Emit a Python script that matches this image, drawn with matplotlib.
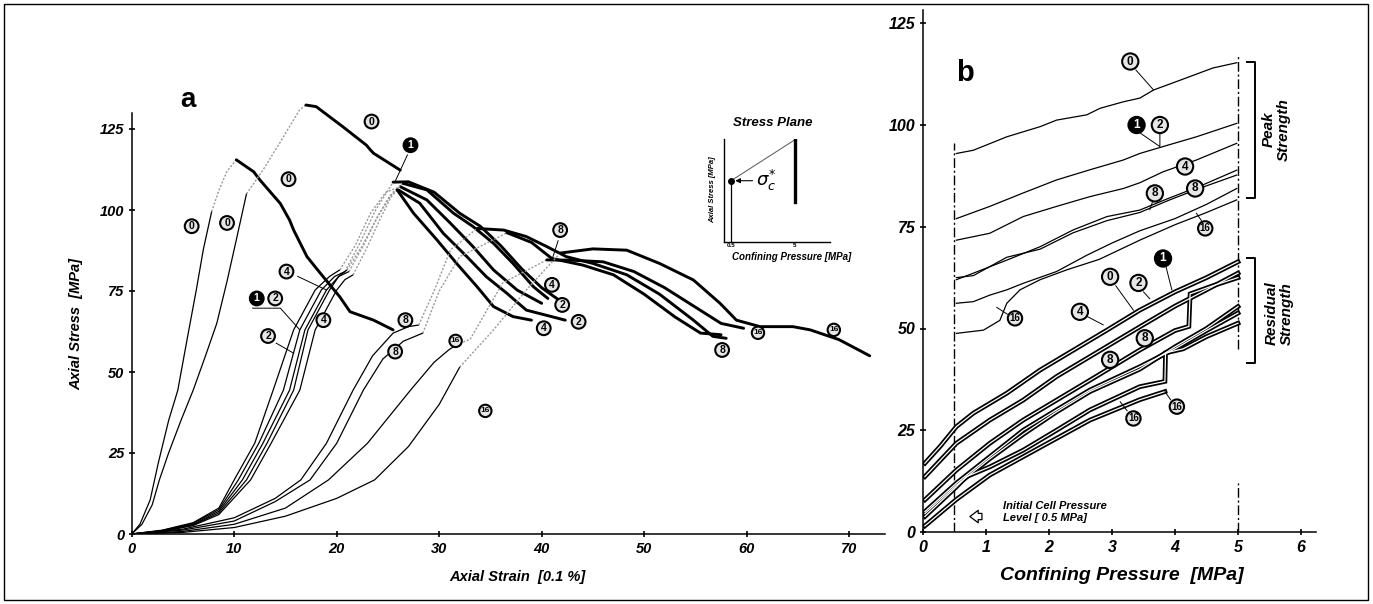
import matplotlib
matplotlib.use("Agg")
import matplotlib.pyplot as plt
from matplotlib.patches import Rectangle

# ---------------- DATA ----------------
# Panel a : axial strain [0.1 %] vs axial stress [MPa]
strain_ticks = [0, 10, 20, 30, 40, 50, 60, 70]
stress_ticks = [0, 25, 50, 75, 100, 125]

# confining pressure 0 MPa, left specimen
a0L_rise_x = [0, 0.8, 1.8, 2.6, 3.6, 4.5, 5.4, 6.3, 7.0, 7.8]
a0L_rise_y = [0, 3, 10.5, 22, 35, 44.4, 60, 75.3, 88, 99.5]
a0L_grey_x = [7.8, 8.5, 9.3, 10.2]
a0L_grey_y = [99.5, 106, 112, 115.5]
a0L_fall_x = [10.2, 11.9, 12.5, 14.5, 15.4, 15.8, 17.1, 18.4, 20.3, 21.3, 23.6, 25.5]
a0L_fall_y = [115.5, 111.8, 109.3, 102, 96.9, 93.8, 85.6, 80.5, 73.2, 68.6, 66, 63]

# confining pressure 0 MPa, right specimen
a0R_rise_x = [0, 1, 2, 2.7, 3.6, 4.8, 6, 7.2, 8.3, 9.3, 10.2, 11.2]
a0R_rise_y = [0, 3, 9, 16.7, 25, 35, 44.4, 55, 65, 78, 90.7, 105]
a0R_grey_x = [11.2, 12.8, 14.5, 16.4, 17]
a0R_grey_y = [105, 112.3, 121, 131, 132.4]
a0R_fall_x = [17, 18, 20.6, 22.9, 23.3, 23.6, 26.2]
a0R_fall_y = [132.4, 131.9, 125.7, 120, 118.5, 117.5, 112.3]

# 1 MPa
a1_rise_x = [0, 3, 6, 8.5, 10.4, 12.4, 14.8, 16.4, 18.5, 19.8, 20.8]
a1_rise_y = [0, 1.1, 3.3, 7.5, 16.7, 28, 44.4, 63, 75.3, 79.5, 81]
a1_grey_x = [20.8, 22.3, 23.8, 25.5]
a1_grey_y = [81, 90, 100, 108.6]
a1_fall_x = [25.5, 27, 29.5, 32, 34, 36, 38, 40, 42]
a1_fall_y = [108.6, 108.7, 105.5, 99, 95, 89, 82, 76, 71.5]

# 2 MPa (two specimens)
a2a_rise_x = [0, 3, 6, 8.5, 10, 12, 13.8, 15.8, 17.9, 19.3, 20.3]
a2a_rise_y = [0, 1.2, 3.5, 8, 16.7, 28, 44.4, 63, 75.3, 79.5, 81.5]
a2a_grey_x = [20.3, 21.8, 23.3, 24.8, 26.2]
a2a_grey_y = [81.5, 89, 99, 105.5, 107.2]
a2a_fall_x = [26.2, 28.8, 31.1, 33.3, 35.3, 37.6, 40]
a2a_fall_y = [107.2, 103.1, 95.9, 88.7, 81.5, 75.3, 71.2]

a2b_rise_x = [0, 3, 6, 8.5, 10.8, 12.8, 15.4, 16.9, 19.0, 20.2, 21.2]
a2b_rise_y = [0, 1.0, 3.0, 7, 16.7, 28, 44.4, 63, 75.3, 79.5, 81]
a2b_grey_x = [21.2, 22.6, 24.0, 25.2, 26.0]
a2b_grey_y = [81, 89, 98, 104.5, 106.2]
a2b_fall_x = [26.0, 28.1, 30.4, 32.7, 34.6, 36.6, 38.5, 42.3]
a2b_fall_y = [106.2, 102.1, 92.8, 85.6, 79.4, 74.3, 69.1, 66]

# 4 MPa (two specimens)
a4a_rise_x = [0, 3, 6, 8.5, 11.2, 13.2, 15.8, 17.2, 19.3, 20.2, 21.0]
a4a_rise_y = [0, 0.9, 2.8, 6.5, 16.7, 28, 44.4, 63, 75.3, 79.5, 81.5]
a4a_grey_x = [21.0, 22.5, 24.0, 25.5, 26.5]
a4a_grey_y = [81.5, 89, 98, 105.5, 108.2]
a4a_fall_x = [26.5, 28.8, 31.4, 33.3, 35.3, 37.2, 39.2, 40.6]
a4a_fall_y = [108.2, 106.2, 99, 94.9, 89.7, 83.5, 76.3, 72.7]

a4b_rise_x = [0, 3, 6, 8.5, 11.6, 13.6, 16.4, 17.9, 20.0, 20.8, 21.6]
a4b_rise_y = [0, 0.8, 2.6, 6, 16.7, 28, 44.4, 63, 75.3, 78.5, 80]
a4b_grey_x = [21.6, 22.9, 24.2, 25.3, 25.9]
a4b_grey_y = [80, 88, 97, 104, 106.2]
a4b_fall_x = [25.9, 27.5, 29.8, 31.7, 33.7, 35.3, 37.2, 39]
a4b_fall_y = [106.2, 99, 90.7, 83.5, 76.3, 70.2, 67.1, 66]

# 8 MPa (two specimens)
a8a_rise_x = [0, 5, 10, 14, 16.5, 19, 21.6, 23.5, 25.5, 27, 28]
a8a_rise_y = [0, 1.5, 5, 11, 16.7, 28, 44.4, 55, 62, 64, 64.5]
a8a_grey_x = [28, 29.5, 31.1, 33.7]
a8a_grey_y = [64.5, 75, 87.7, 94.3]
a8a_fall_x = [33.7, 36.3, 38.5, 40.5, 42.4, 45, 48.3, 51.5, 54.8, 56.7, 58]
a8a_fall_y = [94.3, 93.8, 91.8, 88.7, 85.6, 83.5, 80, 74, 66, 61, 60.4]

a8b_rise_x = [0, 5, 10, 14, 17.4, 20, 22.6, 24.5, 26.5, 28.4]
a8b_rise_y = [0, 1.2, 4, 10, 16.7, 28, 44.4, 54, 59.5, 62]
a8b_grey_x = [28.4, 30, 32, 35.9, 36.6]
a8b_grey_y = [62, 75, 85.6, 91.8, 93]
a8b_fall_x = [36.6, 39, 41, 44, 47, 50, 53, 55.5, 57.5]
a8b_fall_y = [93, 90, 85, 83, 80, 74, 67, 62, 61.5]

# 16 MPa (two specimens)
a16a_rise_x = [0, 5, 10, 15, 19.2, 23, 27.2, 29.5, 31, 32]
a16a_rise_y = [0, 0.8, 3, 8, 16.7, 28, 44.4, 53, 57, 58.9]
a16a_grey_x = [32, 33, 36.2, 40.5]
a16a_grey_y = [58.9, 60, 77.5, 84.6]
a16a_fall_x = [40.5, 43, 46, 49, 52, 55, 57.5, 59.7]
a16a_fall_y = [84.6, 84.5, 84, 81, 76, 70, 65, 63.5]

a16b_rise_x = [0, 5, 10, 15, 20, 23.7, 27, 30, 32]
a16b_rise_y = [0, 0.5, 2, 5.5, 11, 16.7, 27, 40, 51.5]
a16b_grey_x = [32, 35.3, 38.5, 41.8]
a16b_grey_y = [51.5, 63, 75.3, 86.7]
a16b_fall_x = [41.8, 45, 48.3, 51.5, 54.8, 57.4, 59, 61.3, 64.5, 66.2, 69, 72]
a16b_fall_y = [86.7, 88, 87.6, 83.5, 78.4, 71.2, 66, 64, 64, 63, 60, 55]

# Panel b : confining pressure [MPa] vs axial stress [MPa]
press_ticks = [0, 1, 2, 3, 4, 5, 6]
b_stress_ticks = [0, 25, 50, 75, 100, 125]

# peak strength envelopes
p0_x = [0.53, 0.8, 1.33, 1.86, 2.12, 2.6, 2.81, 3.18, 3.44, 3.66, 4.08, 4.6, 4.98]
p0_y = [93, 93.8, 97.1, 99.6, 101.2, 102.5, 104.1, 105.7, 106.6, 108.6, 111, 114, 115.3]
p1_x = [0.53, 1.06, 1.59, 2.12, 2.65, 3.18, 3.44, 3.81, 4.34, 4.98]
p1_y = [77, 80, 83.3, 86.5, 89, 91.4, 93, 94.7, 97.1, 100.4]
p4_x = [0.53, 1.06, 1.59, 2.12, 2.65, 3.18, 3.44, 3.81, 4.34, 4.98]
p4_y = [71.7, 73.4, 77.5, 80, 82.4, 84.4, 85.8, 88.5, 91.4, 95.5]
p8a_x = [0.53, 0.8, 1.33, 1.86, 2.38, 2.92, 3.44, 3.9, 4.4, 4.98]
p8a_y = [62, 63.6, 66.8, 70.1, 74.2, 77.5, 79.1, 82, 85, 88.9]
p8b_x = [0.53, 0.8, 1.33, 1.86, 2.38, 2.92, 3.44, 3.9, 4.4, 4.98]
p8b_y = [62.5, 63, 67.5, 69.5, 73.5, 76.5, 78.5, 81.5, 84.5, 87.7]
p16a_x = [0.53, 0.8, 1.06, 1.33, 1.59, 2.12, 2.6, 3.0, 3.44, 4.0, 4.5, 4.98]
p16a_y = [56.2, 56.6, 58.2, 59.5, 61.1, 64, 68, 71, 74, 77, 80.5, 84.4]
p16b_x = [0.53, 0.96, 1.22, 1.33, 1.54, 1.86, 2.28, 2.8, 3.44, 4.0, 4.5, 4.98]
p16b_y = [48.8, 49.6, 52, 56.2, 59.5, 62, 64.4, 67, 71.7, 75.5, 78.5, 81.6]

# residual strength envelopes
r1_x = [0.03, 0.27, 0.53, 0.8, 1.33, 1.86, 2.39, 2.92, 3.44, 4.0, 4.5, 5.0]
r1_y = [16.9, 21, 25.9, 29.2, 34.1, 39.8, 44.7, 49.6, 54.5, 59, 62.5, 66.4]
r2_x = [0.03, 0.53, 1.06, 1.59, 2.12, 2.65, 3.44, 4.0, 4.5, 5.0]
r2_y = [13.6, 21.8, 27.5, 32.4, 38.2, 43.1, 50.4, 55.5, 59.5, 63.6]
r4_x = [0.03, 0.53, 1.06, 1.59, 2.12, 2.65, 3.44, 4.0, 4.22, 4.24, 4.6, 5.0]
r4_y = [7.9, 15.2, 21.8, 27.5, 32.4, 37.3, 44.7, 49.5, 50.5, 58.5, 60.5, 62.5]
r8a_x = [0.03, 0.53, 1.06, 1.59, 2.12, 2.65, 3.44, 4.0, 4.5, 5.0]
r8a_y = [5, 12, 18.5, 25, 30, 34.9, 40.6, 45, 49.5, 53.8]
r8b_x = [0.03, 0.53, 1.06, 1.59, 2.12, 2.65, 3.44, 4.0, 4.5, 5.0]
r8b_y = [4.5, 11.5, 18, 24, 29.5, 34.5, 40, 45.5, 50, 55.4]
r16a_x = [0.03, 0.53, 0.69, 1.06, 1.59, 2.12, 2.65, 3.44, 3.84, 3.85, 4.13, 4.5, 5.0]
r16a_y = [3.8, 11.1, 13.6, 16, 20.1, 25, 30, 35.7, 37, 44, 45, 48, 51.3]
r16b_x = [0.03, 0.53, 1.06, 1.59, 2.12, 2.65, 3.44, 3.84]
r16b_y = [1.5, 8, 14, 18.5, 23, 27.5, 32.5, 34.5]

# ---------------- FIGURE ----------------
W, H, DPI = 1373, 604, 100
plt.rcParams['font.family'] = ['Liberation Sans', 'DejaVu Sans']
fig = plt.figure(figsize=(W / DPI, H / DPI), dpi=DPI)
fig.patch.set_facecolor('white')


def fx(px):
    return px / W


def fy(py):
    return 1 - py / H


BI = dict(fontweight='bold', fontstyle='italic')

fig.add_artist(Rectangle((fx(4), fy(600)), fx(1364), 596 / H, transform=fig.transFigure,
                         fill=False, ec='black', lw=1.0))

# ---- panel a ----
A_TOP = 140.0
axA = fig.add_axes([fx(131.7), fy(534), (885 - 131.7) / W, (A_TOP * 3.24) / H])
axA.set_xlim(0, (885 - 131.7) / 10.25)
axA.set_ylim(0, A_TOP)

THIN = dict(color='black', lw=0.9, solid_capstyle='round')
GREY = dict(color='#9a9a9a', lw=1.0, ls=(0, (1.5, 1.2)))
THICK = dict(color='black', lw=2.1, solid_capstyle='round')

curves_a = [
    (a0L_rise_x, a0L_rise_y, a0L_grey_x, a0L_grey_y, a0L_fall_x, a0L_fall_y),
    (a0R_rise_x, a0R_rise_y, a0R_grey_x, a0R_grey_y, a0R_fall_x, a0R_fall_y),
    (a1_rise_x, a1_rise_y, a1_grey_x, a1_grey_y, a1_fall_x, a1_fall_y),
    (a2a_rise_x, a2a_rise_y, a2a_grey_x, a2a_grey_y, a2a_fall_x, a2a_fall_y),
    (a2b_rise_x, a2b_rise_y, a2b_grey_x, a2b_grey_y, a2b_fall_x, a2b_fall_y),
    (a4a_rise_x, a4a_rise_y, a4a_grey_x, a4a_grey_y, a4a_fall_x, a4a_fall_y),
    (a4b_rise_x, a4b_rise_y, a4b_grey_x, a4b_grey_y, a4b_fall_x, a4b_fall_y),
    (a8a_rise_x, a8a_rise_y, a8a_grey_x, a8a_grey_y, a8a_fall_x, a8a_fall_y),
    (a8b_rise_x, a8b_rise_y, a8b_grey_x, a8b_grey_y, a8b_fall_x, a8b_fall_y),
    (a16a_rise_x, a16a_rise_y, a16a_grey_x, a16a_grey_y, a16a_fall_x, a16a_fall_y),
    (a16b_rise_x, a16b_rise_y, a16b_grey_x, a16b_grey_y, a16b_fall_x, a16b_fall_y),
]
for rx, ry, gx, gy, dx, dy in curves_a:
    axA.plot(rx, ry, **THIN)
    axA.plot(gx, gy, **GREY)
    axA.plot(dx, dy, **THICK)


def style_axes(ax, fs, pad):
    for s in ('top', 'right'):
        ax.spines[s].set_visible(False)
    for s in ('left', 'bottom'):
        ax.spines[s].set_linewidth(1.1)
    ax.tick_params(direction='inout', length=5, width=1.2, labelsize=fs, pad=pad)
    for lab in ax.get_xticklabels() + ax.get_yticklabels():
        lab.set_fontweight('bold')
        lab.set_fontstyle('italic')
    ax.patch.set_alpha(0)


axA.set_xticks(strain_ticks)
axA.set_yticks(stress_ticks)
style_axes(axA, 10.5, 3)
axA.spines['left'].set_bounds(0, 130)


def circ(ax, x, y, s, filled=False, fs=7.5, pad=0.18):
    ax.text(x, y, s, ha='center', va='center', fontsize=fs if len(s) == 1 else fs - 1.5,
            fontweight='bold', color='white' if filled else 'black', zorder=6,
            bbox=dict(boxstyle='circle,pad=%.2f' % pad, fc='black' if filled else '#e6e6e6',
                      ec='black', lw=1.5), clip_on=False)


def leader(ax, xs, ys, lw=0.7):
    ax.plot(xs, ys, color='black', lw=lw, zorder=5, clip_on=False)


circ(axA, 23.4, 127.3, '0')
circ(axA, 15.3, 109.5, '0')
circ(axA, 5.85, 95, '0')
circ(axA, 9.3, 96, '0')
leader(axA, [26.9, 25.7], [117, 108.8])
circ(axA, 27.2, 120, '1', filled=True)
leader(axA, [16.2, 19], [79.5, 75.3])
circ(axA, 15.1, 81, '4')
circ(axA, 12.2, 72.7, '1', filled=True)
circ(axA, 14.0, 72.7, '2')
leader(axA, [11.8, 14.5, 16.4], [69.7, 69.7, 63])
leader(axA, [14.1, 15.8], [58.9, 55.8])
circ(axA, 13.3, 61.1, '2')
circ(axA, 18.7, 66, '4')
circ(axA, 26.7, 66, '8')
circ(axA, 25.7, 56.3, '8')
circ(axA, 31.6, 59.6, '16')
circ(axA, 34.5, 38, '16')
leader(axA, [41.6, 41], [90.5, 84.6])
circ(axA, 41.8, 93.8, '8')
circ(axA, 41.0, 76.9, '4')
circ(axA, 42.0, 70.7, '2')
circ(axA, 43.6, 65.5, '2')
circ(axA, 40.2, 63.5, '4')
circ(axA, 57.6, 56.8, '8')
circ(axA, 61.1, 62.1, '16')
circ(axA, 68.5, 63.0, '16')

fig.text(fx(76.7), fy(324), 'Axial Stress  [MPa]', rotation=90, ha='center', va='center',
         fontsize=10.5, **BI)
fig.text(fx(517), fy(577), 'Axial Strain  [0.1 %]', ha='center', va='center', fontsize=10.5, **BI)
fig.text(fx(188), fy(100), 'a', ha='center', va='center', fontsize=20, fontweight='bold')

# ---- inset (stress plane sketch) ----
inset_x = [0.5, 5.0]
inset_y = [61, 102]
inset_bar_y = [40, 102]
axI = fig.add_axes([fx(724), fy(241.7), (830 - 724) / W, (241.7 - 139.3) / H])
axI.set_xlim(0, (830 - 724) / 14.2)
axI.set_ylim(0, 102.4)
axI.spines['top'].set_visible(False)
axI.spines['right'].set_visible(False)
axI.spines['left'].set_linewidth(1.0)
axI.spines['bottom'].set_linewidth(1.0)
axI.set_yticks([])
axI.set_xticks(inset_x)
axI.set_xticklabels(['0.5', '5'], fontsize=4.5, fontweight='bold')
axI.tick_params(axis='x', length=0, pad=1)
axI.plot(inset_x, inset_y, color='#555555', lw=0.7)
axI.plot([inset_x[1], inset_x[1]], inset_bar_y, color='black', lw=2.4)
axI.plot([inset_x[0], inset_x[0]], [0, inset_y[0]], color='black', lw=0.9)
axI.plot([inset_x[0]], [inset_y[0]], 'o', color='black', ms=4)
axI.annotate('', xy=(inset_x[0] + 0.1, inset_y[0]), xytext=(inset_x[0] + 1.7, inset_y[0]),
             arrowprops=dict(arrowstyle='-|>', color='black', lw=0.8, mutation_scale=7))
axI.text(inset_x[0] + 1.75, inset_y[0], r'$\sigma_c^{*}$', fontsize=13, va='center', ha='left')
axI.patch.set_alpha(0)
fig.text(fx(733), fy(123), 'Stress Plane', ha='left', va='center', fontsize=9.5, **BI)
fig.text(fx(713), fy(190), 'Axial Stress [MPa]', rotation=90, ha='center', va='center',
         fontsize=5.5, **BI)
fig.text(fx(731.7), fy(257), 'Confining Pressure [MPa]', ha='left', va='center', fontsize=7, **BI)

# ---- panel b ----
axB = fig.add_axes([fx(923), fy(532), (1316 - 923) / W, (532 - 10) / H])
axB.set_xlim(0, (1316 - 923) / 63)
axB.set_ylim(0, (532 - 10) / 4.07)
axB.set_xticks(press_ticks)
axB.set_yticks(b_stress_ticks)
style_axes(axB, 11.5, 3)

PTHIN = dict(color='black', lw=0.9)
for px_, py_ in [(p0_x, p0_y), (p1_x, p1_y), (p4_x, p4_y), (p8a_x, p8a_y), (p8b_x, p8b_y),
                 (p16a_x, p16a_y), (p16b_x, p16b_y)]:
    axB.plot(px_, py_, **PTHIN)
for rx, ry in [(r1_x, r1_y), (r2_x, r2_y), (r4_x, r4_y), (r8a_x, r8a_y), (r8b_x, r8b_y),
               (r16a_x, r16a_y), (r16b_x, r16b_y)]:
    axB.plot(rx, ry, color='black', lw=3.4, solid_joinstyle='miter', zorder=3)
for rx, ry in [(r1_x, r1_y), (r2_x, r2_y), (r4_x, r4_y), (r8a_x, r8a_y), (r8b_x, r8b_y),
               (r16a_x, r16a_y), (r16b_x, r16b_y)]:
    axB.plot(rx, ry, color='white', lw=0.9, solid_joinstyle='miter', zorder=3.1)

DD = dict(color='black', lw=1.0, ls=(0, (7, 2, 1.5, 2)))
axB.plot([0.5, 0.5], [0, 95.5], **DD)
axB.plot([5, 5], [45, 117], **DD)
axB.plot([5, 5], [0, 12], **DD)

# brackets
axB.plot([5.14, 5.27, 5.27, 5.14], [115.6, 115.6, 82, 82], color='black', lw=1.4)
axB.plot([5.14, 5.27, 5.27, 5.14], [67.3, 67.3, 41.5, 41.5], color='black', lw=1.4)
axB.text(5.6, 99, 'Peak\nStrength', rotation=90, ha='center', va='center', fontsize=11,
         multialignment='center', linespacing=1.1, **BI)
axB.text(5.65, 53.7, 'Residual\nStrength', rotation=90, ha='center', va='center', fontsize=11,
         multialignment='center', linespacing=1.1, **BI)

# labels peak
leader(axB, [3.38, 3.66], [113.5, 108.6])
circ(axB, 3.29, 115.6, '0', fs=8.5)
leader(axB, [3.45, 3.76, 3.76], [98, 94.7, 98])
circ(axB, 3.39, 100, '1', filled=True, fs=8.5)
circ(axB, 3.76, 100, '2', fs=8.5)
circ(axB, 4.16, 89.8, '4', fs=8.5)
leader(axB, [3.64, 3.6], [81, 79.2])
circ(axB, 3.68, 83.2, '8', fs=8.5)
circ(axB, 4.32, 84.4, '8', fs=8.5)
leader(axB, [4.42, 4.34], [76.5, 78.3])
circ(axB, 4.48, 74.6, '16', fs=8.5)
leader(axB, [1.34, 1.17], [53.5, 55.2])
circ(axB, 1.46, 52.5, '16', fs=8.5)
# labels residual
leader(axB, [3.06, 3.34], [60.5, 54.5])
circ(axB, 2.97, 62.7, '0', fs=8.5)
leader(axB, [3.5, 3.6], [59, 57.3])
circ(axB, 3.42, 61.2, '2', fs=8.5)
leader(axB, [3.86, 3.95], [65, 59.5])
circ(axB, 3.81, 67.2, '1', filled=True, fs=8.5)
leader(axB, [2.6, 2.86], [53, 50.9])
circ(axB, 2.49, 54.1, '4', fs=8.5)
circ(axB, 2.97, 42.3, '8', fs=8.5)
circ(axB, 3.52, 47.6, '8', fs=8.5)
leader(axB, [3.24, 3.13], [29.8, 32])
circ(axB, 3.34, 27.9, '16', fs=8.5)
leader(axB, [3.93, 3.84], [32.5, 34.5])
circ(axB, 4.03, 30.8, '16', fs=8.5)

axB.text(1.27, 5.0, 'Initial Cell Pressure\nLevel [ 0.5 MPa]', ha='left', va='center',
         fontsize=8, linespacing=1.25, **BI)
axB.annotate('', xy=(0.7, 3.8), xytext=(0.98, 3.8),
             arrowprops=dict(arrowstyle='simple,head_width=0.9,head_length=0.6,tail_width=0.45',
                             fc='white', ec='black', lw=0.9))

fig.text(fx(1122), fy(575), 'Confining Pressure  [MPa]', ha='center', va='center', fontsize=14, **BI)
fig.text(fx(965), fy(73), 'b', ha='center', va='center', fontsize=21, fontweight='bold')

fig.savefig('out.png', dpi=DPI, facecolor='white')
